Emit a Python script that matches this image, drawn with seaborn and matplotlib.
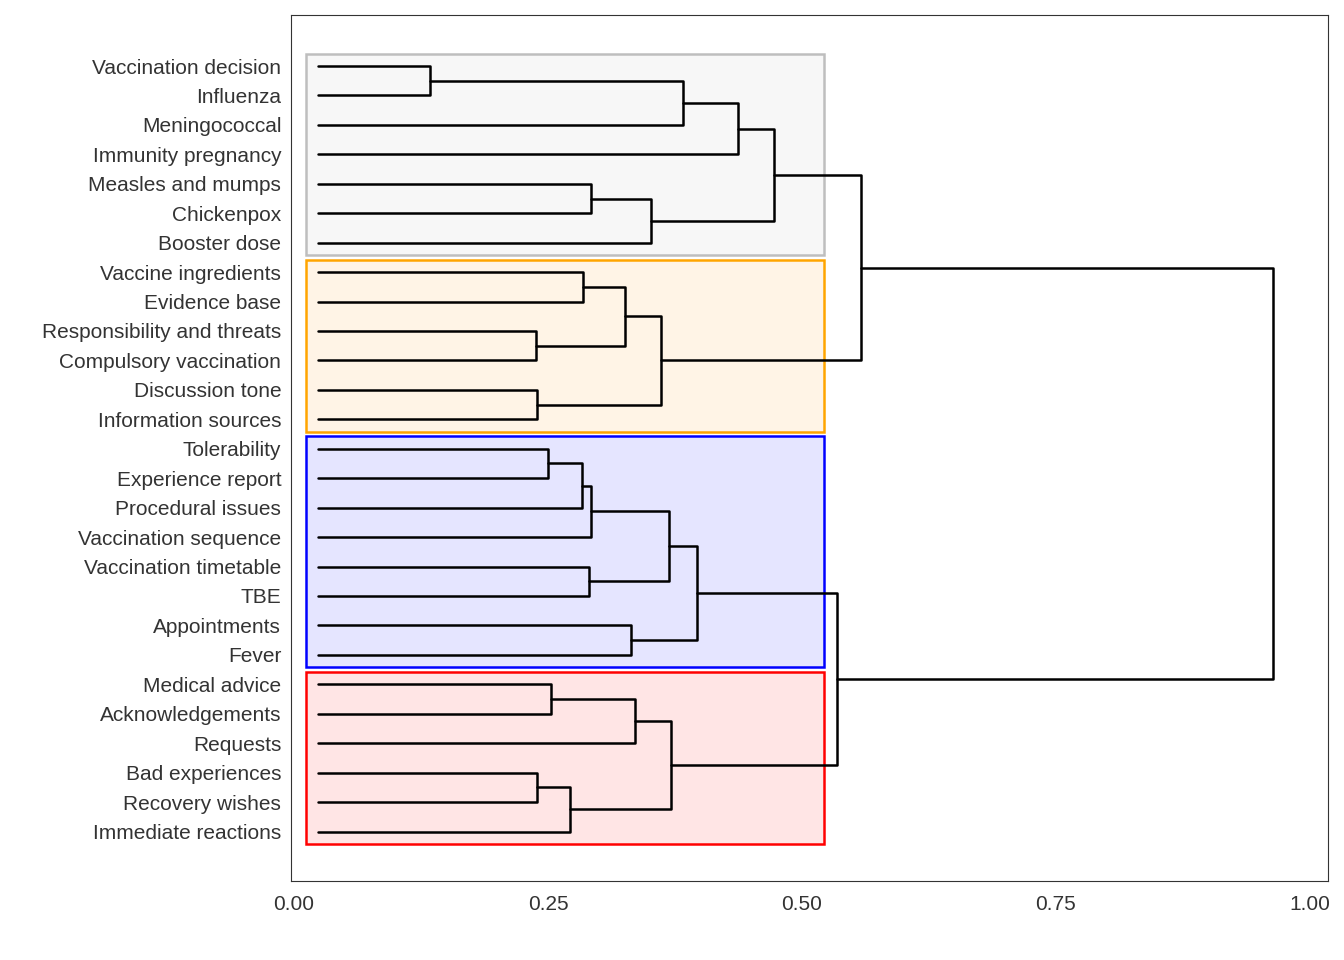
import matplotlib
matplotlib.use("Agg")
import matplotlib.pyplot as plt
import matplotlib.patches as mpatches
import seaborn as sns

labels = ["Vaccination decision", "Influenza", "Meningococcal", "Immunity pregnancy",
          "Measles and mumps", "Chickenpox", "Booster dose", "Vaccine ingredients",
          "Evidence base", "Responsibility and threats", "Compulsory vaccination",
          "Discussion tone", "Information sources", "Tolerability", "Experience report",
          "Procedural issues", "Vaccination sequence", "Vaccination timetable", "TBE",
          "Appointments", "Fever", "Medical advice", "Acknowledgements", "Requests",
          "Bad experiences", "Recovery wishes", "Immediate reactions"]
# merges: (child_a, child_b, height); ints are leaves, 'n#' refer to earlier merges
merge_a = [0, "n0", "n1", 4, "n3", "n2", 7, 9, "n6", 11, "n8", "n5",
           13, "n12", "n13", 17, "n14", 19, "n16", 21, "n19", 24, "n21", "n20", "n18", "n11"]
merge_b = [1, 2, 3, 5, 6, "n4", 8, 10, "n7", 12, "n9", "n10",
           14, 15, 16, 18, "n15", 20, "n17", 22, 23, 25, 26, "n22", "n23", "n24"]
merge_h = [0.134, 0.383, 0.437, 0.292, 0.351, 0.473, 0.285, 0.238, 0.326, 0.239, 0.361, 0.558,
           0.250, 0.284, 0.292, 0.290, 0.369, 0.332, 0.397, 0.253, 0.336, 0.239, 0.272, 0.371,
           0.535, 0.964]
leaf_x = 0.0235
groups = [(0, 6), (7, 12), (13, 20), (21, 26)]
edge_colors = ["#BEBEBE", "#FFA500", "#0000FF", "#FF0000"]
fill_colors = ["#F7F7F7", "#FFF4E6", "#E5E5FF", "#FFE5E5"]
xticks = [0, 0.25, 0.5, 0.75, 1.0]
xtick_labels = ["0.00", "0.25", "0.50", "0.75", "1.00"]

sns.set_style("white")
plt.rcParams["font.family"] = ["Liberation Sans", "DejaVu Sans"]
fig = plt.figure(figsize=(13.44, 9.6), dpi=100)
ax = fig.add_axes([0.2165, 0.0823, 0.7716, 0.902])

for (s, e), ec, fc in zip(groups, edge_colors, fill_colors):
    ax.add_patch(mpatches.Rectangle((0.0118, s - 0.42), 0.522 - 0.0118, e - s + 0.84,
                                    facecolor=fc, edgecolor=ec, lw=1.8, zorder=1))

pos = {}
def get(c):
    if isinstance(c, int):
        return float(c), leaf_x
    return pos[c]
for i, (a, b, h) in enumerate(zip(merge_a, merge_b, merge_h)):
    ya, xa = get(a)
    yb, xb = get(b)
    ax.plot([xa, h, h, xb], [ya, ya, yb, yb], color="black", lw=1.8, zorder=3)
    pos[f"n{i}"] = ((ya + yb) / 2, h)

ax.set_xlim(-0.003, 1.018)
ax.set_ylim(26 + 1.68, -1.73)
ax.set_yticks(range(len(labels)))
ax.set_yticklabels(labels, fontsize=15, color="#333333")
ax.set_xticks(xticks)
ax.set_xticklabels(xtick_labels, fontsize=15, color="#333333")
ax.tick_params(length=0)
ax.tick_params(axis="x", pad=10)
ax.tick_params(axis="y", pad=7)
for sp in ax.spines.values():
    sp.set_color("#333333")
    sp.set_linewidth(0.8)
fig.savefig("out.png", dpi=100)
